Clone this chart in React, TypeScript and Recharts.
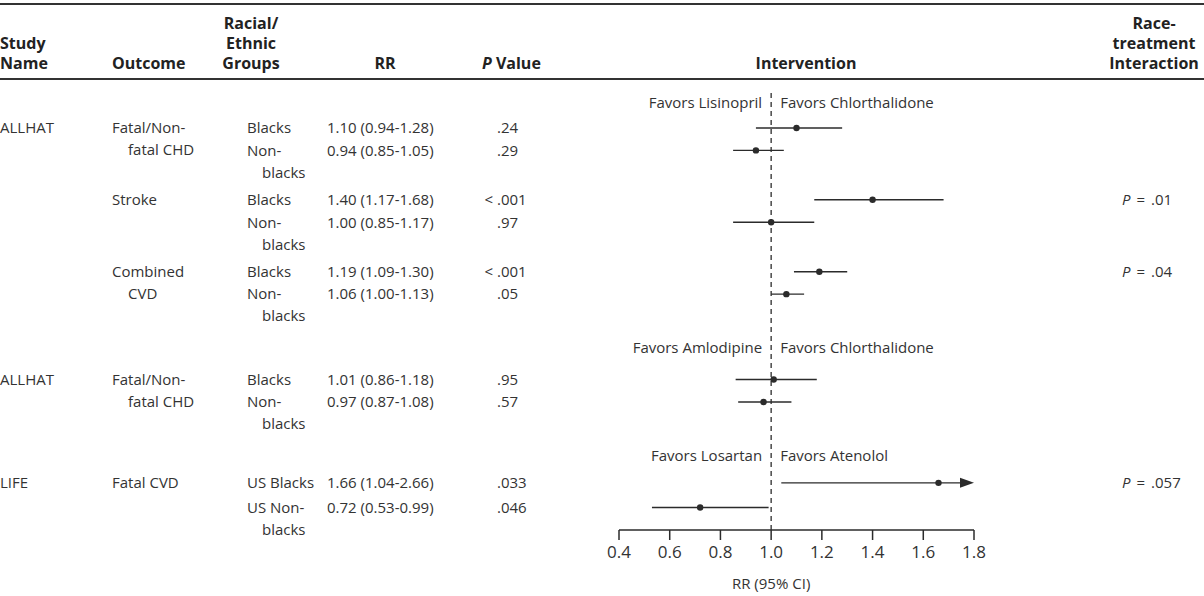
import React from "react";
import { ComposedChart, Scatter, XAxis, YAxis, ReferenceLine } from "recharts";

// table rows (one entry per racial/ethnic group)
const studyNames = ["ALLHAT", "", "", "", "", "", "ALLHAT", "", "LIFE", ""];
const outcomes = [
  ["Fatal/Non-", "fatal CHD"], [], ["Stroke"], [], ["Combined", "CVD"], [],
  ["Fatal/Non-", "fatal CHD"], [], ["Fatal CVD"], [],
];
const groups = [
  ["Blacks"], ["Non-", "blacks"], ["Blacks"], ["Non-", "blacks"], ["Blacks"], ["Non-", "blacks"],
  ["Blacks"], ["Non-", "blacks"], ["US Blacks"], ["US Non-", "blacks"],
];
const rr = [1.1, 0.94, 1.4, 1.0, 1.19, 1.06, 1.01, 0.97, 1.66, 0.72];
const ciLow = [0.94, 0.85, 1.17, 0.85, 1.09, 1.0, 0.86, 0.87, 1.04, 0.53];
const ciHigh = [1.28, 1.05, 1.68, 1.17, 1.3, 1.13, 1.18, 1.08, 2.66, 0.99];
const pValues = [".24", ".29", "<.001", ".97", "<.001", ".05", ".95", ".57", ".033", ".046"];
const interactionP = ["", "", ".01", "", ".04", "", "", "", ".057", ""];
// vertical slot of each row (top = 0)
const rowSlots = [1.6, 2.6, 4.8, 5.8, 8.0, 9.0, 12.8, 13.8, 17.4, 18.5];

// comparison headers above each trial block
const favorsLeft = ["Favors Lisinopril", "Favors Amlodipine", "Favors Losartan"];
const favorsRight = ["Favors Chlorthalidone", "Favors Chlorthalidone", "Favors Atenolol"];
const favorsSlots = [0.5, 11.4, 16.2];

const xTicks = [0.4, 0.6, 0.8, 1.0, 1.2, 1.4, 1.6, 1.8];

const FONT = "'Open Sans', 'DejaVu Sans', sans-serif";
const W = 1204;
const H = 596;
const X_MIN = 0.4;
const X_MAX = 1.8;
const SLOT_MAX = 19.5;
const LINE_H = 22;
const INK = "#2b2b2b";

const col = { study: 0, outcome: 112, group: 247, rr: 327, p: 497, inter: 1122 };

const rows = rr.map((v, i) => ({
  x: v,
  y: rowSlots[i],
  lo: ciLow[i],
  hi: Math.min(ciHigh[i], X_MAX),
  over: ciHigh[i] > X_MAX,
}));
const favors = favorsSlots.map((s, i) => ({ x: 1, y: s, left: favorsLeft[i], right: favorsRight[i] }));

const txt = { fontFamily: FONT, fontSize: 15, fill: "#333", dy: "0.35em" };

function RowTick(props: any) {
  const { y, payload } = props;
  const i = rowSlots.indexOf(payload.value);
  if (i < 0) return null;
  const multi = (arr: string[], x: number, indent: number) =>
    arr.map((t, k) => (
      <text key={k} x={k === 0 ? x : x + indent} y={y + k * LINE_H} {...txt}>
        {t}
      </text>
    ));
  const p = pValues[i];
  return (
    <g>
      <text x={col.study} y={y} {...txt}>{studyNames[i]}</text>
      {multi(outcomes[i], col.outcome, 16)}
      {multi(groups[i], col.group, 15)}
      <text x={col.rr} y={y} {...txt}>{`${rr[i].toFixed(2)} (${ciLow[i].toFixed(2)}-${ciHigh[i].toFixed(2)})`}</text>
      {p.startsWith("<") ? (
        <>
          <text x={col.p - 4} y={y} textAnchor="end" {...txt}>&lt;</text>
          <text x={col.p} y={y} {...txt}>{p.slice(1)}</text>
        </>
      ) : (
        <text x={col.p} y={y} {...txt}>{p}</text>
      )}
      {interactionP[i] && (
        <text x={col.inter} y={y} {...txt}>
          <tspan fontStyle="italic">P</tspan>
          <tspan dx={6}>=</tspan>
          <tspan dx={6}>{interactionP[i]}</tspan>
        </text>
      )}
    </g>
  );
}

function CiLine(props: any) {
  const { x1, y1, x2, y2, over } = props;
  if (over) {
    return (
      <g>
        <line x1={x1} y1={y1} x2={x2 - 10} y2={y2} stroke={INK} strokeWidth={1.4} />
        <polygon points={`${x2},${y2} ${x2 - 14},${y2 - 5} ${x2 - 14},${y2 + 5}`} fill={INK} />
      </g>
    );
  }
  return <line x1={x1} y1={y1} x2={x2} y2={y2} stroke={INK} strokeWidth={1.4} />;
}

function FavorsLabel(props: any) {
  const { cx, cy, payload } = props;
  return (
    <g>
      <text x={cx - 9} y={cy} textAnchor="end" {...txt}>{payload.left}</text>
      <text x={cx + 9} y={cy} {...txt}>{payload.right}</text>
    </g>
  );
}

function AxisTitle(props: any) {
  const { viewBox } = props;
  const x = viewBox.x + ((1 - X_MIN) / (X_MAX - X_MIN)) * viewBox.width;
  return (
    <text x={x} y={viewBox.y + 54} textAnchor="middle" {...txt}>
      RR (95% CI)
    </text>
  );
}

const head: React.CSSProperties = {
  position: "absolute",
  fontFamily: FONT,
  fontWeight: 700,
  fontSize: 16,
  lineHeight: "20px",
  color: "#222",
  whiteSpace: "nowrap",
};

export default function App() {
  return (
    <div style={{ position: "absolute", left: 0, top: 0, width: W, height: H, background: "#fff" }}>
      <div style={{ position: "absolute", left: 0, top: 3, width: W, height: 2, background: "#333" }} />
      <div style={{ position: "absolute", left: 0, top: 78, width: W, height: 2, background: "#333" }} />
      <div style={{ ...head, left: 0, top: 33 }}>Study<br />Name</div>
      <div style={{ ...head, left: 112, top: 53 }}>Outcome</div>
      <div style={{ ...head, left: 200, width: 102, top: 13, textAlign: "center" }}>Racial/<br />Ethnic<br />Groups</div>
      <div style={{ ...head, left: 345, width: 80, top: 53, textAlign: "center" }}>RR</div>
      <div style={{ ...head, left: 482, top: 53 }}><i>P</i> Value</div>
      <div style={{ ...head, left: 706, width: 200, top: 53, textAlign: "center" }}>Intervention</div>
      <div style={{ ...head, left: 1104, width: 100, top: 13, textAlign: "center" }}>Race-<br />treatment<br />Interaction</div>

      <div style={{ position: "absolute", left: 0, top: 0 }}>
        <ComposedChart width={W} height={H} margin={{ top: 92, right: 230, bottom: 0, left: 0 }}>
          <XAxis
            type="number"
            dataKey="x"
            domain={[X_MIN, X_MAX]}
            ticks={xTicks}
            allowDataOverflow
            tickFormatter={(v: number) => v.toFixed(1)}
            axisLine={{ stroke: INK, strokeWidth: 1.5 }}
            tickLine={{ stroke: INK, strokeWidth: 1.5 }}
            tickSize={10}
            tickMargin={6}
            tick={{ fill: "#333", fontSize: 17, fontFamily: FONT }}
            height={66}
            label={<AxisTitle />}
          />
          <YAxis
            type="number"
            dataKey="y"
            domain={[0, SLOT_MAX]}
            reversed
            ticks={rowSlots}
            interval={0}
            width={619}
            axisLine={false}
            tickLine={false}
            tick={(p: any) => <RowTick {...p} />}
          />
          <ReferenceLine x={1} stroke={INK} strokeWidth={1.3} strokeDasharray="5 4" />
          {rows.map((r, i) => (
            <ReferenceLine
              key={i}
              segment={[{ x: r.lo, y: r.y }, { x: r.hi, y: r.y }]}
              ifOverflow="visible"
              shape={(p: any) => <CiLine {...p} over={r.over} />}
            />
          ))}
          <Scatter
            data={rows}
            fill={INK}
            isAnimationActive={false}
            shape={(p: any) => <circle cx={p.cx} cy={p.cy} r={3.2} fill={INK} />}
          />
          <Scatter
            data={favors}
            isAnimationActive={false}
            shape={(p: any) => <FavorsLabel {...p} />}
          />
        </ComposedChart>
      </div>
    </div>
  );
}
